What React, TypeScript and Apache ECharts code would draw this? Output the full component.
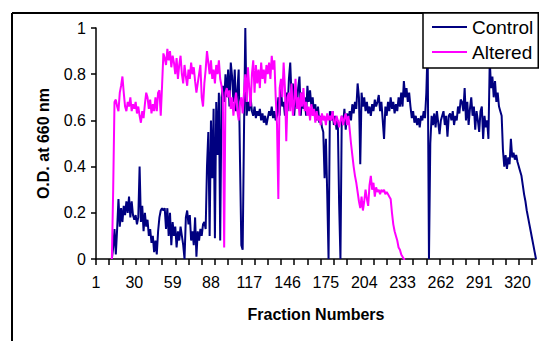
import React, { useEffect, useRef } from "react";
import * as echarts from "echarts";

const FONT = "'Liberation Sans', Arial, sans-serif";

// Fraction numbers 1..334
const categories: string[] = Array.from({ length: 334 }, (_, i) => String(i + 1));

const yTicks = [0, 0.2, 0.4, 0.6, 0.8, 1];

// O.D. at 660 nm, Control (rows of 10 fractions)
const control: (number | null)[] = [
  null, null, null, null, null, null, null, null, null, null,
  null, null, 0, 0.05, 0.13, 0.02, 0.13, 0.26, 0.14, 0.22,
  0.16, 0.23, 0.19, 0.25, 0.20, 0.27, 0.18, 0.25, 0.19, 0.17,
  0.19, 0.15, 0.18, 0.40, 0.16, 0.23, 0.12, 0.20, 0.14, 0.17,
  0.10, 0.13, 0.07, 0.10, 0.03, 0.08, 0.02, 0.12, 0.18, 0.21,
  0.22, 0.21, 0.22, 0.13, 0.22, 0.10, 0.20, 0.06, 0.16, 0.10,
  0.14, 0.05, 0.12, 0.08, 0.14, 0.10, 0.06, 0.0, 0.18, 0.21,
  0.15, 0.19, 0.08, 0.12, 0.06, 0.18, 0.01, 0.12, 0.08, 0.13,
  0.10, 0.15, 0.16, 0.13, 0.40, 0.55, 0.10, 0.60, 0.35, 0.65,
  0.09, 0.68, 0.45, 0.72, 0.08, 0.70, 0.75, 0.68, 0.80, 0.70,
  0.82, 0.66, 0.85, 0.79, 0.68, 0.82, 0.64, 0.73, 0.82, 0.42,
  0.06, 0.04, 0.55, 1.0, 0.62, 0.68, 0.64, 0.70, 0.64, 0.62,
  0.66, 0.61, 0.64, 0.62, 0.65, 0.60, 0.63, 0.59, 0.62, 0.58,
  0.61, 0.64, 0.62, 0.66, 0.61, 0.64, 0.60, 0.62, 0.70, 0.62,
  0.74, 0.66, 0.68, 0.62, 0.72, 0.64, 0.78, 0.85, 0.70, 0.76,
  0.62, 0.70, 0.66, 0.74, 0.79, 0.62, 0.72, 0.65, 0.70, 0.62,
  0.75, 0.68, 0.73, 0.66, 0.70, 0.62, 0.67, 0.60, 0.66, 0.59,
  0.62, 0.57, 0.55, 0.35, 0.52, 0.28, 0.0, 0.64, 0.60, 0.64,
  0.58, 0.62, 0.56, 0.60, 0.24, 0.0, 0.62, 0.58, 0.65, 0.56,
  0.63, 0.60, 0.64, 0.60, 0.67, 0.63, 0.68, 0.65, 0.76, 0.70,
  0.41, 0.72, 0.66, 0.70, 0.64, 0.68, 0.63, 0.66, 0.62, 0.67,
  0.64, 0.69, 0.66, 0.68, 0.71, 0.64, 0.68, 0.60, 0.52, 0.66,
  0.62, 0.68, 0.64, 0.70, 0.65, 0.68, 0.63, 0.67, 0.64, 0.70,
  0.66, 0.72, 0.66, 0.77, 0.70, 0.74, 0.68, 0.72, 0.66, 0.61,
  0.64, 0.59, 0.62, 0.58, 0.61, 0.57, 0.62, 0.60, 0.64, 0.61,
  0.72, 0.92, 0.0, 0.50, 0.62, 0.58, 0.63, 0.57, 0.64, 0.59,
  0.54, 0.60, 0.62, 0.64, 0.58, 0.62, 0.53, 0.62, 0.63, 0.60,
  0.64, 0.58, 0.62, 0.60, 0.66, 0.63, 0.69, 0.68, 0.64, 0.74,
  0.60, 0.68, 0.58, 0.65, 0.70, 0.62, 0.66, 0.56, 0.64, 0.60,
  0.55, 0.64, 0.66, 0.52, 0.62, 0.57, 0.60, 0.52, 0.86, 0.74,
  0.79, 0.70, 0.77, 0.68, 0.72, 0.66, 0.64, 0.62, 0.47, 0.40,
  0.45, 0.39, 0.44, 0.41, 0.52, 0.44, 0.46, 0.43, 0.45, 0.42,
  0.40, 0.38, 0.36, 0.32, 0.28, 0.25, 0.21, 0.18, 0.15, 0.12,
  0.09, 0.06, 0.03, 0.0,
];

// O.D. at 660 nm, Altered (rows of 10 fractions)
const altered: (number | null)[] = [
  null, null, null, null, null, null, null, null, null, null,
  null, null, 0, 0.30, 0.68, 0.69, 0.66, 0.64, 0.72, 0.75,
  0.79, 0.72, 0.66, 0.64, 0.68, 0.66, 0.70, 0.64, 0.67, 0.65,
  0.68, 0.63, 0.66, 0.62, 0.59, 0.64, 0.61, 0.67, 0.72, 0.70,
  0.65, 0.69, 0.63, 0.67, 0.64, 0.70, 0.64, 0.72, 0.73, 0.62,
  0.75, 0.89, 0.87, 0.84, 0.91, 0.86, 0.90, 0.83, 0.88, 0.85,
  0.80, 0.87, 0.78, 0.84, 0.88, 0.80, 0.76, 0.84, 0.79, 0.75,
  0.82, 0.78, 0.85, 0.80, 0.83, 0.77, 0.72, 0.76, 0.80, 0.84,
  0.70, 0.66, 0.76, 0.82, 0.90, 0.85, 0.80, 0.86, 0.78, 0.82,
  0.76, 0.84, 0.80, 0.86, 0.78, 0.75, 0.70, 0.05, 0.72, 0.74,
  0.70, 0.73, 0.65, 0.70, 0.62, 0.68, 0.72, 0.64, 0.60, 0.68,
  0.70, 0.63, 0.72, 0.80, 0.68, 0.83, 0.74, 0.66, 0.80, 0.86,
  0.72, 0.84, 0.76, 0.82, 0.74, 0.85, 0.78, 0.82, 0.76, 0.84,
  0.80, 0.85, 0.78, 0.88, 0.82, 0.86, 0.70, 0.58, 0.26, 0.74,
  0.78, 0.70, 0.85, 0.74, 0.51, 0.70, 0.72, 0.64, 0.76, 0.62,
  0.68, 0.78, 0.65, 0.70, 0.62, 0.72, 0.66, 0.74, 0.64, 0.68,
  0.62, 0.66, 0.60, 0.67, 0.62, 0.65, 0.59, 0.64, 0.60, 0.62,
  0.58, 0.63, 0.60, 0.62, 0.58, 0.63, 0.60, 0.62, 0.60, 0.64,
  0.60, 0.58, 0.62, 0.60, 0.57, 0.60, 0.62, 0.58, 0.61, 0.63,
  0.58, 0.62, 0.56, 0.50, 0.45, 0.40, 0.36, 0.33, 0.29, 0.25,
  0.22, 0.27, 0.21, 0.25, 0.30, 0.26, 0.23, 0.32, 0.36, 0.30,
  0.33, 0.27, 0.31, 0.29, 0.30, 0.28, 0.30, 0.29, 0.30, 0.28,
  0.29, 0.28, 0.27, 0.26, 0.20, 0.15, 0.12, 0.10, 0.08, 0.05,
  0.04, 0.02, 0.01, 0, 0,
];

export default function App() {
  const ref = useRef<HTMLDivElement>(null);

  useEffect(() => {
    if (!ref.current) return;
    const chart = echarts.init(ref.current, null, { renderer: "svg" });
    const axisLine = { show: true, lineStyle: { color: "#000", width: 1.5 } };
    chart.setOption({
      animation: false,
      backgroundColor: "#fff",
      grid: { left: 96, right: 3, top: 28, bottom: 82, containLabel: false, outerBoundsMode: "none" },
      graphic: [
        { type: "line", shape: { x1: 12, y1: 13, x2: 539, y2: 13 }, style: { stroke: "#000", lineWidth: 2 }, z: 1 },
        { type: "line", shape: { x1: 12, y1: 13, x2: 12, y2: 341 }, style: { stroke: "#000", lineWidth: 2 }, z: 1 },
      ],
      legend: {
        orient: "vertical",
        left: 423,
        top: 13,
        padding: [4, 5, 6, 9],
        itemGap: 5,
        itemWidth: 35,
        itemHeight: 2,
        icon: "rect",
        backgroundColor: "#fff",
        borderColor: "#000",
        borderWidth: 1.5,
        borderRadius: 0,
        textStyle: { fontSize: 19, color: "#000", fontFamily: FONT, lineHeight: 20 },
        data: ["Control", "Altered"],
        z: 10,
      },
      xAxis: {
        type: "category",
        data: categories,
        boundaryGap: false,
        axisLine,
        axisTick: { show: true, interval: 9, length: 6, lineStyle: { color: "#000", width: 1.5 } },
        axisLabel: { interval: 28, color: "#000", fontSize: 16, fontFamily: FONT, margin: 15 },
        splitLine: { show: false },
        name: "Fraction Numbers",
        nameLocation: "middle",
        nameGap: 47,
        nameTextStyle: { fontWeight: "bold", fontSize: 16, color: "#000", fontFamily: FONT },
      },
      yAxis: {
        type: "value",
        min: yTicks[0],
        max: yTicks[yTicks.length - 1],
        interval: 0.2,
        axisLine,
        axisTick: { show: true, length: 5, lineStyle: { color: "#000", width: 1.5 } },
        axisLabel: { color: "#000", fontSize: 16, fontFamily: FONT, margin: 10 },
        splitLine: { show: false },
        name: "O.D. at 660 nm",
        nameLocation: "middle",
        nameGap: 45,
        nameTextStyle: { fontWeight: "bold", fontSize: 16, color: "#000", fontFamily: FONT },
      },
      series: [
        {
          name: "Control",
          type: "line",
          data: control,
          symbol: "none",
          color: "#000080",
          lineStyle: { color: "#000080", width: 2 },
          connectNulls: false,
          z: 2,
        },
        {
          name: "Altered",
          type: "line",
          data: altered,
          symbol: "none",
          color: "#FF00FF",
          lineStyle: { color: "#FF00FF", width: 2 },
          connectNulls: false,
          z: 2,
        },
      ],
    });
    return () => chart.dispose();
  }, []);

  return (
    <div
      ref={ref}
      style={{ position: "absolute", left: 0, top: 0, width: 539, height: 341, background: "#fff" }}
    />
  );
}
